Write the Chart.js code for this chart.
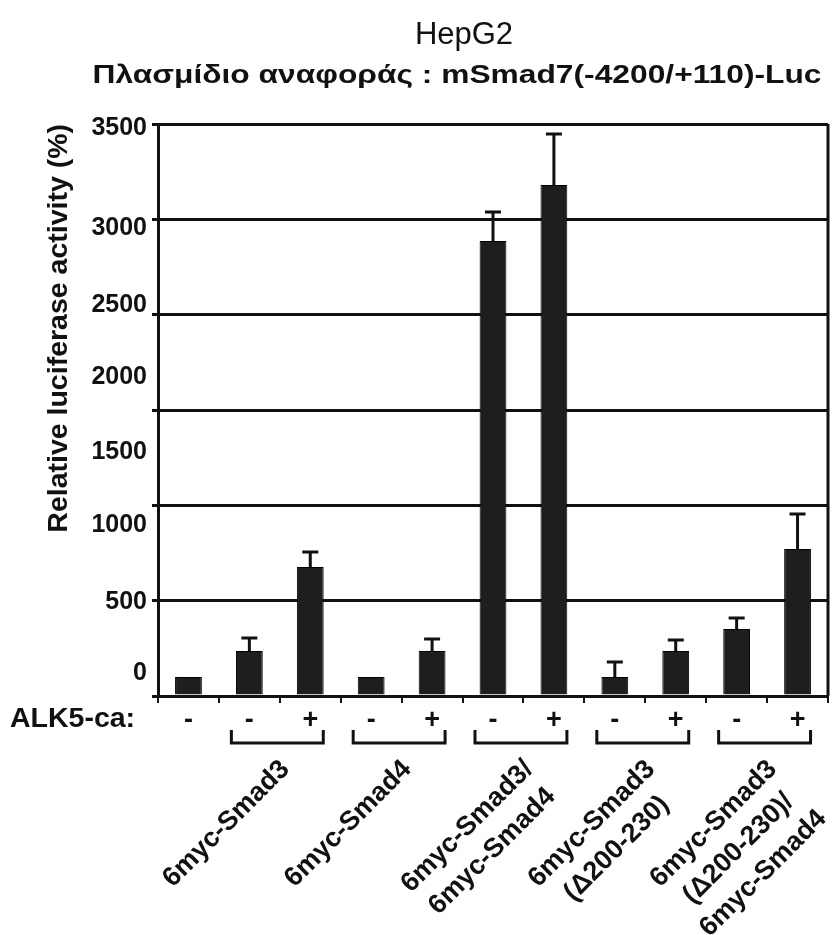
<!DOCTYPE html>
<html>
<head>
<meta charset="utf-8">
<script src="https://cdn.jsdelivr.net/npm/chart.js@4"></script>
<style>
  body { margin: 0; background: #fff; }
  #wrap { width: 832px; height: 935px; }
</style>
</head>
<body>
<div id="wrap"><canvas id="barChart" width="832" height="935"></canvas></div>
<script>
// values (% of control)
const alk5 = ['-', '-', '+', '-', '+', '-', '+', '-', '+', '-', '+'];
const activity = [116, 275, 790, 116, 275, 2784, 3127, 116, 275, 410, 900];
const errorUp = [0, 80, 91, 0, 74, 178, 312, 92, 68, 67, 214];

const groupNames = [
    ['6myc-Smad3'],
    ['6myc-Smad4'],
    ['6myc-Smad3/', '6myc-Smad4'],
    ['6myc-Smad3', '(Δ200-230)'],
    ['6myc-Smad3', '(Δ200-230)/', '6myc-Smad4']
];
const groupFirstBar = [1, 3, 5, 7, 9];

// the printed y labels do not sit on the grid lines in the source figure
const yTickLabels = ['0', '500', '1000', '1500', '2000', '2500', '3000', '3500'];
const yTickAt = [141, 575, 1046, 1493, 1952, 2392, 2864, 3475];
const yMax = 3500;
const gridCount = 6;

const FONT = "'Liberation Sans', Arial, sans-serif";
const INK = '#111';

const extras = {
    id: 'extras',
    afterDatasetsDraw(chart) {
        const { ctx, chartArea, scales: { x, y } } = chart;
        ctx.save();
        ctx.strokeStyle = INK;
        ctx.lineWidth = 3;
        // error bars (upper only)
        activity.forEach((v, i) => {
            if (!errorUp[i]) return;
            const px = x.getPixelForValue(i);
            const top = y.getPixelForValue(v);
            const cap = y.getPixelForValue(v + errorUp[i]);
            ctx.beginPath();
            ctx.moveTo(px, top);
            ctx.lineTo(px, cap);
            ctx.moveTo(px - 8, cap);
            ctx.lineTo(px + 8, cap);
            ctx.stroke();
        });
        // right frame
        ctx.beginPath();
        ctx.moveTo(chartArea.right, chartArea.top);
        ctx.lineTo(chartArea.right, chartArea.bottom);
        ctx.stroke();
        ctx.restore();
    },
    afterDraw(chart) {
        const { ctx, chartArea, scales: { x } } = chart;
        ctx.save();
        ctx.fillStyle = INK;
        ctx.strokeStyle = INK;
        ctx.textBaseline = 'middle';

        ctx.textAlign = 'center';
        ctx.font = '31px ' + FONT;
        ctx.fillText('HepG2', 464, 35);
        // the subtitle is set wide in the source, so stretch it sideways a little
        ctx.save();
        ctx.translate(457, 76);
        ctx.scale(1.27, 1);
        ctx.font = 'bold 25px ' + FONT;
        ctx.fillText('Πλασμίδιο αναφοράς : mSmad7(-4200/+110)-Luc', 0, 0);
        ctx.restore();

        ctx.textAlign = 'left';
        ctx.font = 'bold 28.5px ' + FONT;
        ctx.fillText('ALK5-ca:', 10, chartArea.bottom + 23);

        const bTop = chartArea.bottom + 34;
        const bBot = chartArea.bottom + 47;
        ctx.lineWidth = 3;
        groupNames.forEach((lines, g) => {
            const i = groupFirstBar[g];
            const l = x.getPixelForValue(i) - 18;
            const r = x.getPixelForValue(i + 1) + 13;
            ctx.beginPath();
            ctx.moveTo(l, bTop);
            ctx.lineTo(l, bBot);
            ctx.lineTo(r, bBot);
            ctx.lineTo(r, bTop);
            ctx.stroke();

            ctx.save();
            ctx.translate((l + r) / 2 + 8, bBot + 22);
            ctx.rotate(-Math.PI / 4);
            ctx.font = 'bold 27px ' + FONT;
            ctx.textAlign = 'center';
            const w = Math.max(...lines.map(t => ctx.measureText(t).width));
            lines.forEach((t, k) => ctx.fillText(t, -w / 2, k * 35));
            ctx.restore();
        });
        ctx.restore();
    }
};

new Chart(document.getElementById('barChart'), {
    type: 'bar',
    data: {
        labels: alk5,
        datasets: [{
            data: activity,
            backgroundColor: '#1e1e1e',
            borderColor: '#000',
            borderWidth: 1,
            barPercentage: 0.44,
            categoryPercentage: 1
        }]
    },
    options: {
        responsive: false,
        animation: false,
        layout: { padding: { top: 124, right: 4, left: 0, bottom: 0 } },
        plugins: { legend: { display: false }, tooltip: { enabled: false } },
        scales: {
            x: {
                ticks: { color: INK, font: { family: FONT, size: 27, weight: 'bold' }, padding: 1, maxRotation: 0 },
                grid: { drawOnChartArea: false, color: INK, lineWidth: 2, tickLength: 7 },
                border: { color: INK, width: 3 },
                afterFit: (s) => { s.height = 239; }
            },
            yGrid: {
                position: 'left',
                weight: 0,
                min: 0,
                max: yMax,
                afterBuildTicks: (s) => {
                    s.ticks = Array.from({ length: gridCount + 1 }, (_, k) => ({ value: k * yMax / gridCount }));
                },
                ticks: { display: false },
                grid: { color: INK, lineWidth: 3, tickLength: 6 },
                border: { color: INK, width: 3 }
            },
            y: {
                position: 'left',
                weight: 1,
                min: 0,
                max: yMax,
                afterBuildTicks: (s) => { s.ticks = yTickAt.map(v => ({ value: v })); },
                afterFit: (s) => { s.width = 152; },
                ticks: {
                    autoSkip: false,
                    padding: 5,
                    color: INK,
                    font: { family: FONT, size: 25, weight: 'bold' },
                    callback: (value, index) => yTickLabels[index]
                },
                grid: { display: false, drawTicks: false },
                border: { display: false },
                title: {
                    display: true,
                    text: 'Relative luciferase activity (%)',
                    align: 'end',
                    color: INK,
                    font: { family: FONT, size: 28.5, weight: 'bold' },
                    padding: { top: 42, bottom: 0 }
                }
            }
        }
    },
    plugins: [extras]
});
</script>
</body>
</html>
